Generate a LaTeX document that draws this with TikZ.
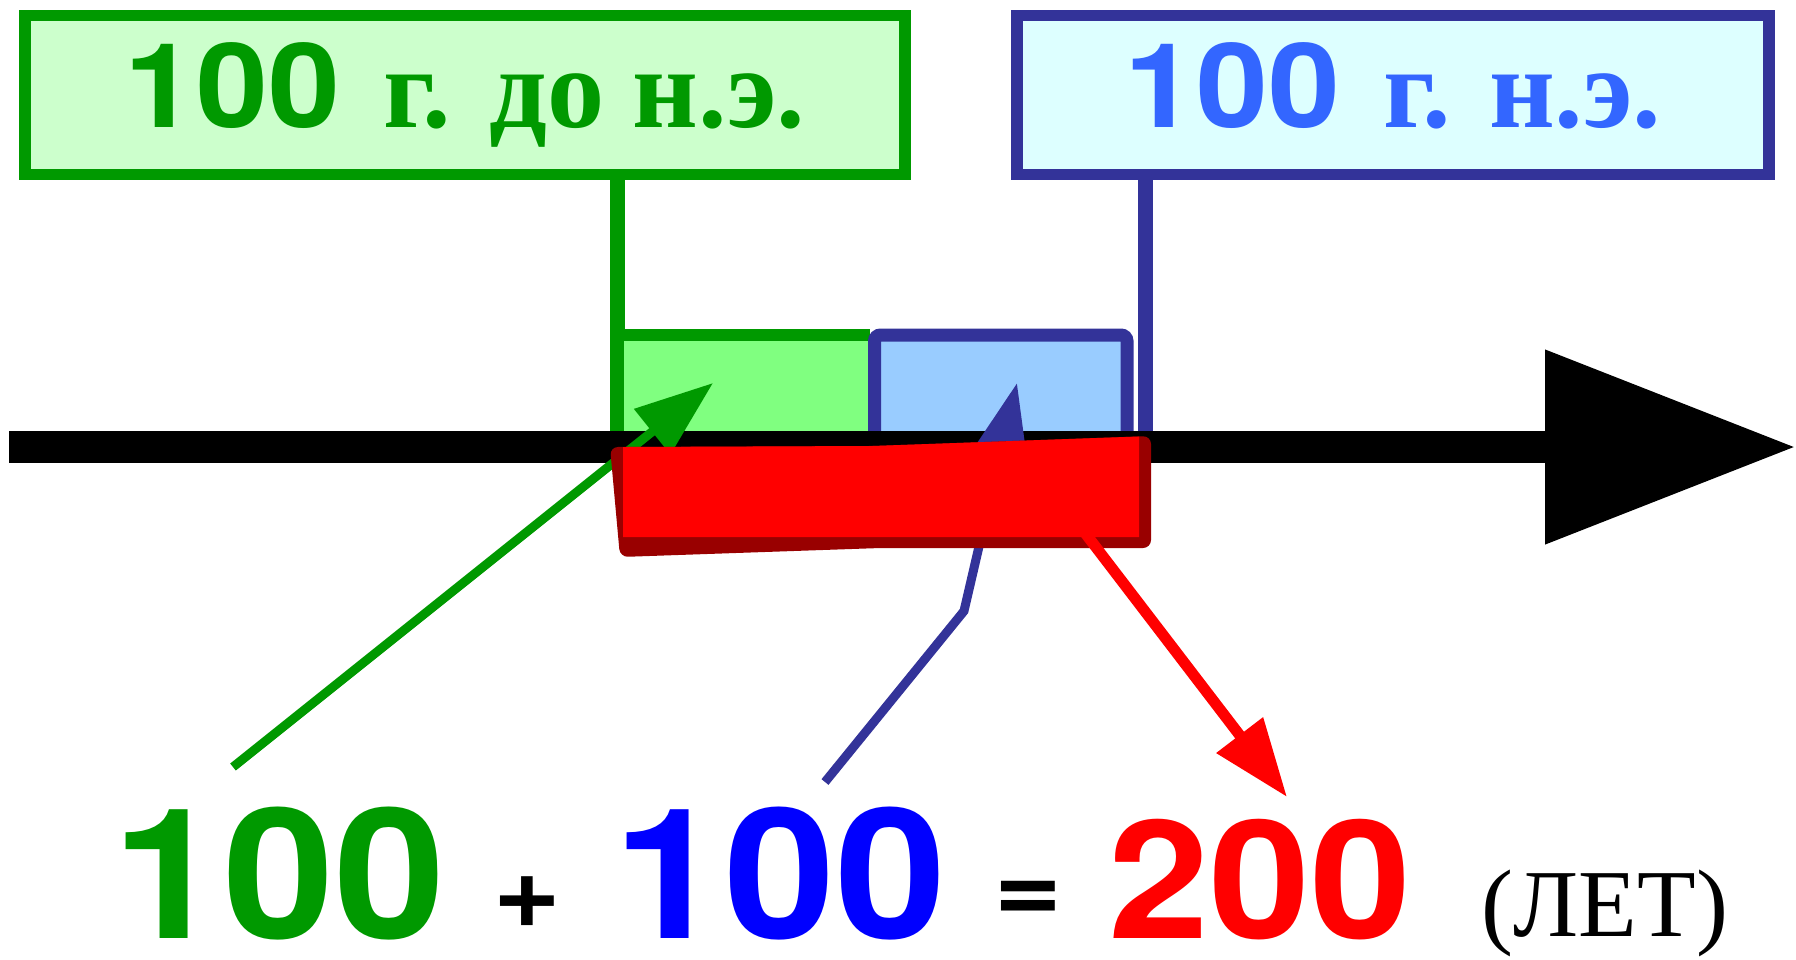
\documentclass[tikz,border=0pt]{standalone}
\usepackage{fontspec}
\setmainfont{Liberation Serif}[BoldFont={Liberation Serif Bold}]
\newfontfamily\numfont{TeX Gyre Heros}[FakeStretch=1.1]
\usetikzlibrary{arrows.meta}
\definecolor{bcgreen}{HTML}{009900}
\definecolor{bcpale}{HTML}{CCFFCC}
\definecolor{bcfill}{HTML}{80FF80}
\definecolor{adblue}{HTML}{333399}
\definecolor{adpale}{HTML}{DDFFFF}
\definecolor{adfill}{HTML}{99CCFF}
\definecolor{adtext}{HTML}{3366FF}
\definecolor{sumblue}{HTML}{0000FF}
\definecolor{spanred}{HTML}{FF0000}
\definecolor{spandark}{HTML}{990000}
\tikzset{
	datebox/.style={draw,line width=1.15mm,inner sep=0pt,minimum width=88mm,minimum height=15.9mm,font=\bfseries\fontsize{32.5}{33}\selectfont},
	pointer/.style={line width=0.9mm,-{Triangle[length=7.8mm,width=5.6mm]}},
	bignum/.style={anchor=base,inner sep=0pt,font=\numfont\bfseries\fontsize{51.7}{52}\selectfont},
	sign/.style={inner sep=0pt,font=\numfont\bfseries\fontsize{30}{30}\selectfont}
}
\begin{document}
\begin{tikzpicture}[x=0.1mm,y=-0.1mm]
	\useasboundingbox (0,0) rectangle (1796,959);
	\node[datebox,draw=bcgreen,fill=bcpale,text=bcgreen] (bc) at (465,95) {{\numfont\fontsize{33.4}{34}\selectfont 100}\hspace{1.5mm} г. до н.э.};
	\node[datebox,draw=adblue,fill=adpale,text=adtext,minimum width=75.2mm] (ad) at (1393,95) {\vphantom{д}{\numfont\fontsize{33.4}{34}\selectfont 100}\hspace{1.5mm} г. н.э.};
	\coordinate (bcleft) at (617,447);
	\coordinate (adright) at (1145,447);
	\coordinate (tstart) at (9,447);
	\coordinate (tend) at (1796,447);
	\draw[bcgreen,line width=1.5mm] (bc.south -| bcleft) -- (bcleft);
	\draw[adblue,line width=1.5mm] (ad.south -| adright) -- (adright);
	\fill[bcfill] (624,340) rectangle (868,447);
	\draw[bcgreen,line width=1.2mm] (617,335) -- (870,335);
	\draw[adblue,fill=adfill,line width=1.3mm,rounded corners=0.6mm] (874.5,447) -- (874.5,335) -- (1127,335) -- (1127,447);
	\draw[line width=3.2mm,-{Triangle[length=25.1mm,width=18.6mm]}] (tstart) -- (tend);
	\coordinate (gfoot) at (233,767);
	\coordinate (gtip) at (713,383);
	\coordinate (bfoot) at (825,782);
	\coordinate (bbend) at (964,611);
	\coordinate (btip) at (1017,383);
	\coordinate (rstart) at (1082,529);
	\coordinate (rtip) at (1287,797);
	\draw[pointer,bcgreen] (gfoot) -- (gtip);
	\draw[pointer,adblue] (bfoot) -- (bbend) -- (btip);
	\fill[spandark,rounded corners=0.8mm] (610,447) -- (872,446) -- (1151,436) -- (1151,548) -- (880,548) -- (620,557) -- cycle;
	\fill[spanred] (623,447) -- (872,446) -- (1139,436.5) -- (1139,537) -- (623,537) -- cycle;
	\draw[pointer,spanred,line width=1.1mm] (rstart) -- (rtip);
	\node[bignum,text=bcgreen] (left) at (279,938) {100};
	\node[sign] (plus) at (527,902) {+};
	\node[bignum,text=sumblue] (right) at (780,938) {100};
	\node[sign] (equals) at (1028,902) {=};
	\node[bignum,text=spanred,font=\numfont\bfseries\fontsize{46.9}{47}\selectfont] (total) at (1260,938) {200};
	\node[anchor=base,inner sep=0pt,font=\fontsize{27.3}{28}\selectfont] (years) at (1605,936) {(ЛЕТ)};
\end{tikzpicture}
\end{document}
